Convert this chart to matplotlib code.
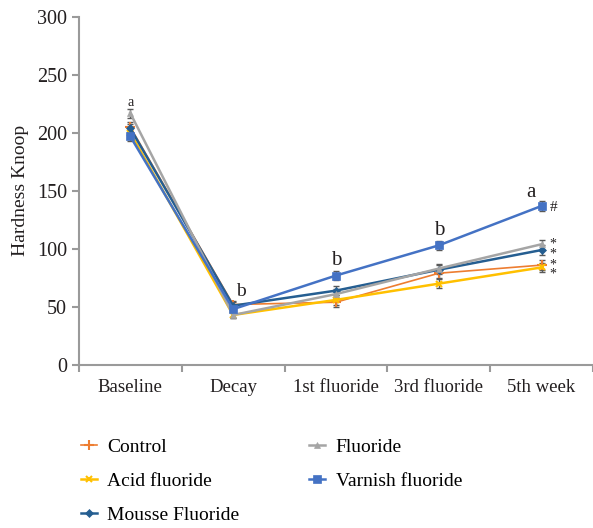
import numpy as np
import matplotlib.pyplot as plt

plt.rcParams['font.family'] = ['Liberation Serif', 'DejaVu Serif']

stages = ['Baseline', 'Decay', '1st fluoride', '3rd fluoride', '5th week']
control = [205, 52, 54, 79, 86]
fluoride = [217, 43, 61, 83, 104]
acid = [200, 43, 56, 70, 84]
varnish = [197, 48, 77, 103, 137]
mousse = [204, 51, 64, 82, 99]
err = [4, 3, 4, 4, 4]

fig = plt.figure(figsize=(5.93, 5.28), dpi=100)
ax = fig.add_axes([0.133, 0.309, 0.867, 0.659])
x = np.arange(len(stages))

series = [
    ('Control', control, '#ED7D31', '+', 7, 1.2),
    ('Acid fluoride', acid, '#FFC000', 'x', 5, 1.8),
    ('Mousse Fluoride', mousse, '#255E91', 'D', 4, 1.8),
    ('Fluoride', fluoride, '#A5A5A5', '^', 5, 1.8),
    ('Varnish fluoride', varnish, '#4472C4', 's', 6, 1.8),
]
handles = []
for name, vals, col, mk, ms, lw in series:
    ax.errorbar(x, vals, yerr=err, fmt='none', ecolor='#595959', elinewidth=1, capsize=2, zorder=2)
    h, = ax.plot(x, vals, color=col, marker=mk, markersize=ms, lw=lw, label=name, zorder=3,
                 markeredgewidth=1.5 if mk in '+x' else 0.5)
    handles.append(h)

ax.set_xlim(-0.5, 4.5)
ax.set_ylim(0, 300)
ax.set_yticks(range(0, 301, 50))
ax.set_xticks(x)
ax.set_xticklabels(stages)
ax.set_xticks(np.arange(-0.5, 4.6, 1), minor=True)
ax.tick_params(axis='x', which='major', length=0, labelsize=13.5, pad=10, colors='#231F20')
ax.tick_params(axis='x', which='minor', length=5, color='#9A9A9A', width=1.5)
ax.tick_params(axis='y', length=5, color='#9A9A9A', width=1.5, labelsize=14.5)
for t in ax.get_yticklabels():
    t.set_color('#231F20')
for s in ['top', 'right']:
    ax.spines[s].set_visible(False)
for s in ['left', 'bottom']:
    ax.spines[s].set_color('#9A9A9A')
    ax.spines[s].set_linewidth(1.5)
ax.set_ylabel('Hardness Knoop', fontsize=14, color='#231F20', labelpad=6)

ax.text(0, 221, 'a', ha='center', va='bottom', fontsize=10, color='#231F20')
ax.text(1.08, 56, 'b', ha='center', va='bottom', fontsize=14, color='#231F20')
ax.text(2, 82, 'b', ha='center', va='bottom', fontsize=15, color='#231F20')
ax.text(3, 108, 'b', ha='center', va='bottom', fontsize=15, color='#231F20')
ax.text(3.9, 140, 'a', ha='center', va='bottom', fontsize=15, color='#231F20')
ax.text(4.08, 136, '#', ha='left', va='center', fontsize=11, color='#231F20')
ax.text(4.08, 100, '*\n*', ha='left', va='center', fontsize=10, linespacing=0.75, color='#231F20')
ax.text(4.08, 82, '*\n*', ha='left', va='center', fontsize=10, linespacing=0.65, color='#231F20')

fig.legend(handles=handles, loc='upper left', bbox_to_anchor=(0.107, 0.203), ncol=2,
           frameon=False, fontsize=14, columnspacing=3.6, handlelength=0.8,
           labelspacing=0.85, handletextpad=0.55)

fig.savefig('out.png', dpi=100)
